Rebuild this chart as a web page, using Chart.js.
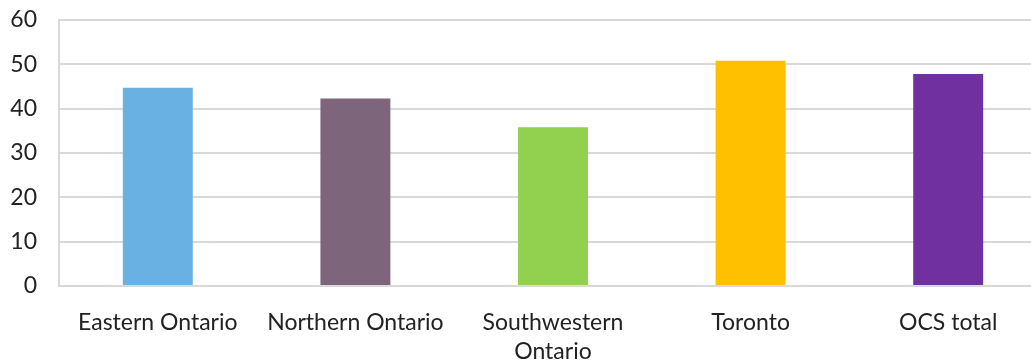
<!DOCTYPE html>
<html>
<head>
<meta charset="utf-8">
<script src="https://cdn.jsdelivr.net/npm/chart.js@4/dist/chart.umd.min.js"></script>
<style>
  html, body { margin: 0; padding: 0; background: #fff; overflow: hidden; }
  #wrap { width: 1047px; height: 360px; }
</style>
</head>
<body>
<div id="wrap"><canvas id="chart-regions"></canvas></div>
<script>
'use strict';
let regions = ['Eastern Ontario', 'Northern Ontario', ['Southwestern', 'Ontario'], 'Toronto', 'OCS total'];
let values = [44.7, 42.3, 35.8, 50.8, 47.8];
let barColors = ['#69b1e3', '#7d657c', '#92d050', '#ffc000', '#7030a0'];
let yTicks = [0, 10, 20, 30, 40, 50, 60];

let gridColor = '#d9d9d9';
let ctx = document.getElementById('chart-regions').getContext('2d');

new Chart(ctx, {
    type: 'bar',
    data: {
        labels: regions,
        datasets: [{
            data: values,
            backgroundColor: barColors,
            borderWidth: 0,
            categoryPercentage: 1,
            barPercentage: 0.354
        }]
    },
    options: {
        responsive: true,
        maintainAspectRatio: false,
        animation: false,
        layout: { padding: { top: 20, right: 0, left: 0, bottom: 0 } },
        plugins: {
            legend: { display: false },
            tooltip: { enabled: false }
        },
        scales: {
            x: {
                grid: { display: false, drawTicks: false },
                border: { display: true, color: gridColor, width: 2 },
                ticks: {
                    color: '#222',
                    padding: 22,
                    maxRotation: 0,
                    autoSkip: false,
                    font: { family: 'Lato', size: 23, lineHeight: 1.25 }
                },
                afterFit: scale => {
                    scale.height = 74;
                    scale.paddingLeft = 0;
                    scale.paddingRight = 0;
                }
            },
            y: {
                min: 0,
                max: 60,
                afterBuildTicks: scale => { scale.ticks = yTicks.map(v => ({ value: v })); },
                grid: { color: gridColor, lineWidth: 2, drawTicks: false },
                border: { display: true, color: gridColor, width: 2 },
                ticks: {
                    color: '#222',
                    padding: 22,
                    font: { family: 'Lato', size: 23 }
                },
                afterFit: scale => {
                    scale.width = 59;
                    scale.paddingTop = 0;
                    scale.paddingBottom = 0;
                }
            }
        }
    }
});
</script>
</body>
</html>
